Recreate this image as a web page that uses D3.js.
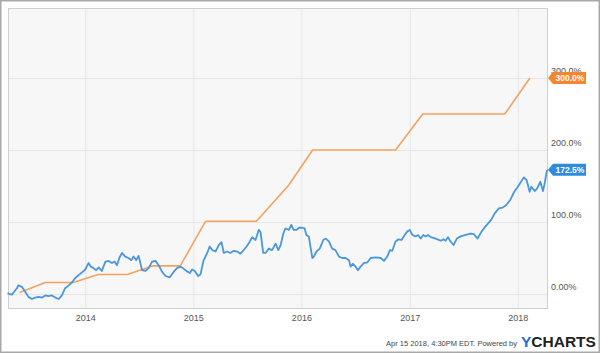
<!DOCTYPE html>
<html><head><meta charset="utf-8">
<script src="https://cdn.jsdelivr.net/npm/d3@7"></script>
<style>
html,body{margin:0;padding:0;background:#fff;}
svg{display:block;font-family:"Liberation Sans",Arial,sans-serif;}
</style></head>
<body><svg id="c" width="600" height="353"></svg>
<script>
// ---- data ----
const blueDates = ["2013-04-13","2013-04-28","2013-05-15","2013-05-20","2013-06-01","2013-06-12","2013-06-23","2013-07-05","2013-07-16","2013-07-27","2013-08-08","2013-08-19","2013-08-30","2013-09-10","2013-09-22","2013-10-03","2013-10-14","2013-10-25","2013-11-06","2013-11-17","2013-11-28","2013-12-09","2013-12-21","2014-01-01","2014-01-12","2014-01-20","2014-01-29","2014-02-07","2014-02-15","2014-02-26","2014-03-10","2014-03-21","2014-04-01","2014-04-10","2014-04-18","2014-04-26","2014-05-05","2014-05-16","2014-05-27","2014-06-06","2014-06-13","2014-06-22","2014-06-30","2014-07-12","2014-07-23","2014-08-03","2014-08-15","2014-08-26","2014-09-06","2014-09-17","2014-09-29","2014-10-13","2014-10-27","2014-11-07","2014-11-18","2014-11-27","2014-12-09","2014-12-20","2014-12-28","2015-01-06","2015-01-17","2015-01-25","2015-02-05","2015-02-17","2015-02-25","2015-03-06","2015-03-17","2015-03-28","2015-04-06","2015-04-14","2015-04-25","2015-05-06","2015-05-18","2015-05-29","2015-06-09","2015-06-18","2015-06-30","2015-07-11","2015-07-19","2015-07-30","2015-08-10","2015-08-16","2015-08-25","2015-09-02","2015-09-13","2015-09-24","2015-10-06","2015-10-15","2015-10-23","2015-11-01","2015-11-08","2015-11-20","2015-11-28","2015-12-06","2015-12-16","2015-12-23","2016-01-04","2016-01-12","2016-01-18","2016-01-26","2016-02-07","2016-02-12","2016-02-21","2016-03-03","2016-03-15","2016-03-23","2016-04-03","2016-04-14","2016-04-25","2016-05-07","2016-05-18","2016-05-29","2016-06-10","2016-06-15","2016-06-23","2016-07-02","2016-07-10","2016-07-19","2016-07-30","2016-08-11","2016-08-22","2016-09-08","2016-09-25","2016-10-06","2016-10-17","2016-10-26","2016-11-03","2016-11-14","2016-11-24","2016-12-04","2016-12-15","2016-12-24","2017-01-01","2017-01-10","2017-01-21","2017-01-29","2017-02-07","2017-02-16","2017-02-24","2017-03-04","2017-03-13","2017-03-30","2017-04-16","2017-04-25","2017-05-02","2017-05-10","2017-05-17","2017-05-29","2017-06-09","2017-06-22","2017-07-09","2017-07-26","2017-08-06","2017-08-18","2017-09-01","2017-09-14","2017-10-03","2017-10-15","2017-10-29","2017-11-11","2017-11-24","2017-12-07","2017-12-20","2018-01-01","2018-01-12","2018-01-21","2018-01-31","2018-02-10","2018-02-16","2018-02-27","2018-03-08","2018-03-18","2018-03-27","2018-04-02","2018-04-09","2018-04-13"];
const blueValues = [1,-1,8,12,10,3,-4,-7,-5,-4,-5,-2,-3,-2,-5,-7,-2,8,12,16,22,26,30,34,43,38,36,33,37,32,45,46,43,45,40,50,57,52,50,47,52,47,53,33,32,36,45,46,40,31,25,23,31,36,38,36,32,29,34,32,25,27,47,57,66,61,59,68,72,57,59,57,60,59,56,60,66,73,79,75,89,86,57,57,63,61,70,61,68,84,91,89,96,89,89,92,92,91,82,80,50,52,59,63,75,77,73,63,61,52,50,50,47,38,42,38,33,38,43,44,50,51,50,46,52,61,60,73,76,75,82,87,89,82,80,82,77,82,80,82,79,77,74,76,74,79,74,68,77,80,82,84,83,77,87,94,103,112,119,120,124,131,142,149,156,162,158,142,149,143,147,156,143,154,171,172.5];

const orangeDates = ["2013-05-24","2013-08-19","2013-11-21","2014-02-14","2014-05-23","2014-08-16","2014-11-18","2015-02-11","2015-08-02","2015-11-19","2016-02-08","2016-11-14","2017-02-14","2017-11-18","2018-02-11"];
const orangeValues = [2,16,16,27,27,39,39,101,101,151,200,200,250,250,300];

const yTicks = [0,100,200,300];
const yTickLabels = ["0.00%","100.0%","200.0%","300.0%"];
const xTickYears = [2014,2015,2016,2017,2018];
const xDomain = ["2013-04-15","2018-04-13"];
const blueLast = "172.5%";
const orangeLast = "300.0%";
const footerText = "Apr 15 2018, 4:30PM EDT.  Powered by";

// ---- chart ----
const parse = d3.timeParse("%Y-%m-%d");
const svg = d3.select("#c");
const L = 8, R = 548, T = 8, B = 309;

const x = d3.scaleTime().domain(xDomain.map(parse)).range([L, R]);
const y = d3.scaleLinear().domain([0, 300]).range([294, 78]);

// outer frame
svg.append("rect").attr("x",0.75).attr("y",0.75).attr("width",598.5).attr("height",351.5)
  .attr("fill","#fff").attr("stroke","#a8a8a8").attr("stroke-width",1.5);

// plot area
svg.append("rect").attr("x",L).attr("y",T).attr("width",R-L).attr("height",B-T)
  .attr("fill","#f7f7f7").attr("stroke","none");

// x grid + labels
const xAxis = d3.axisBottom(x)
  .tickValues(xTickYears.map(yr => new Date(yr,0,1)))
  .tickFormat(d3.timeFormat("%Y"))
  .tickSize(-(B-T)).tickPadding(6);
const gx = svg.append("g").attr("transform",`translate(0,${B})`).call(xAxis);
gx.select(".domain").remove();
gx.selectAll("line").attr("stroke","#e6e6e6");
gx.selectAll("text").attr("fill","#555").attr("font-size",9).attr("font-family","Liberation Sans, Arial, sans-serif");

// y grid + labels
const yAxis = d3.axisRight(y).tickValues(yTicks)
  .tickFormat((d,i) => yTickLabels[yTicks.indexOf(d)])
  .tickSize(-(R-L)).tickPadding(3);
const gy = svg.append("g").attr("transform",`translate(${R},0)`).call(yAxis);
gy.select(".domain").remove();
gy.selectAll("line").attr("stroke","#e6e6e6");
gy.selectAll("text").attr("fill","#555").attr("font-size",9).attr("y",-7)
  .attr("font-family","Liberation Sans, Arial, sans-serif");

// plot border
svg.append("rect").attr("x",L+0.5).attr("y",T+0.5).attr("width",R-L-1).attr("height",B-T-1)
  .attr("fill","none").attr("stroke","#cfcfcf").attr("stroke-width",1);

// lines
const line = d3.line().x(d => x(d[0])).y(d => y(d[1]));
const orangeData = orangeDates.map((d,i) => [parse(d), orangeValues[i]]);
const blueData = blueDates.map((d,i) => [parse(d), blueValues[i]]);

svg.append("path").datum(orangeData).attr("d",line).attr("fill","none")
  .attr("stroke","#f4a261").attr("stroke-width",1.6).attr("stroke-linejoin","round");
svg.append("path").datum(blueData).attr("d",line).attr("fill","none")
  .attr("stroke","#4a97dd").attr("stroke-width",1.8).attr("stroke-linejoin","round");

// end markers
function marker(val, text, color){
  const cy = y(val);
  const g = svg.append("g").attr("transform",`translate(${R},${cy})`);
  g.append("path").attr("d","M0,0 L5,-6 L38,-6 L38,6 L5,6 Z").attr("fill",color);
  g.append("text").attr("x",22).attr("y",3.2).attr("text-anchor","middle")
    .attr("fill","#fff").attr("font-size",8.5).attr("font-weight","bold")
    .attr("font-family","Liberation Sans, Arial, sans-serif").text(text);
}
marker(orangeValues[orangeValues.length-1], orangeLast, "#f7862b");
marker(blueValues[blueValues.length-1], blueLast, "#2f8be0");

// footer
svg.append("text").attr("x",517).attr("y",346).attr("text-anchor","end")
  .attr("font-size",7.5).attr("fill","#444").text(footerText);
const yc = svg.append("text").attr("x",521).attr("y",347)
  .attr("font-size",15.5).attr("font-weight","bold").attr("font-family","Liberation Sans, Arial, sans-serif");
yc.append("tspan").attr("fill","#1d6fd6").text("Y");
yc.append("tspan").attr("fill","#222").text("CHARTS");
</script></body></html>
